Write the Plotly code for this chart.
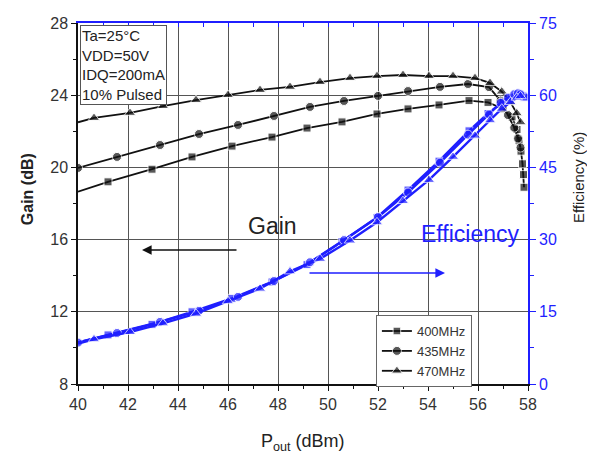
import plotly.graph_objects as go

# ---------------- data ----------------
pout_400 = [40, 41.2, 42.96, 44.56, 46.16, 47.76, 49.16, 50.56, 51.96, 53.2, 54.44, 55.64, 56.4, 57.0, 57.36, 57.56, 57.64, 57.72, 57.78, 57.82, 57.84]
gain_400 = [18.65, 19.2, 19.9, 20.58, 21.18, 21.68, 22.18, 22.52, 22.96, 23.24, 23.46, 23.7, 23.6, 23.25, 22.8, 22.1, 21.5, 20.9, 20.2, 19.6, 18.9]
eff_400 = [8.6, 10.2, 12.4, 15.0, 17.8, 21.2, 24.8, 29.6, 34.6, 40.3, 46.3, 52.6, 56.2, 58.6, 59.6, 60.0, 60.1, 60.0, 59.9, 59.8, 59.6]

pout_435 = [40, 41.56, 43.28, 44.84, 46.4, 47.84, 49.28, 50.64, 52.0, 53.2, 54.48, 55.6, 56.44, 56.9, 57.2, 57.45, 57.6, 57.7]
gain_435 = [19.97, 20.58, 21.24, 21.85, 22.35, 22.85, 23.35, 23.68, 23.96, 24.23, 24.46, 24.62, 24.45, 23.7, 22.9, 22.2, 21.6, 21.1]
eff_435 = [8.6, 10.6, 12.9, 15.2, 18.1, 21.4, 25.3, 29.9, 34.7, 39.8, 46.0, 51.8, 56.0, 58.4, 59.5, 60.2, 60.4, 60.2]

pout_470 = [40, 40.64, 42.08, 43.4, 44.72, 46.0, 47.28, 48.48, 49.68, 50.88, 51.96, 53.0, 54.04, 55.0, 55.88, 56.48, 56.95, 57.3, 57.55, 57.7]
gain_470 = [22.5, 22.74, 23.02, 23.4, 23.73, 24.01, 24.29, 24.46, 24.73, 24.95, 25.06, 25.12, 25.06, 25.06, 24.95, 24.68, 24.2, 23.6, 23.0, 22.5]
eff_470 = [8.4, 9.3, 10.8, 12.6, 14.6, 17.2, 19.8, 23.4, 26.0, 29.8, 33.6, 38.0, 42.4, 47.2, 51.6, 54.8, 57.2, 58.6, 59.5, 59.8]

series_names = ["400MHz", "435MHz", "470MHz"]
x_ticks = [40, 42, 44, 46, 48, 50, 52, 54, 56, 58]
gain_ticks = [8, 12, 16, 20, 24, 28]
eff_ticks = [0, 15, 30, 45, 60, 75]
conditions = ["Ta=25°C", "VDD=50V", "IDQ=200mA", "10% Pulsed"]

FONT = "Arial, Liberation Sans, sans-serif"
BLUE = "#1f1fff"

fig = go.Figure()

sets = [
    (pout_400, gain_400, eff_400, "square", 8, False),
    (pout_435, gain_435, eff_435, "circle", 9, True),
    (pout_470, gain_470, eff_470, "triangle-up", 10, False),
]

for (px, g, e, sym, ms, first), name in zip(sets, series_names):
    sizes = [ms] * len(px)
    if not first:
        sizes[0] = 0
    fig.add_trace(go.Scatter(
        x=px, y=g, name=name, mode="lines+markers",
        line=dict(color="#111111", width=1.8),
        marker=dict(symbol=sym, size=sizes, color="#111111"),
        xaxis="x", yaxis="y",
    ))
    fig.add_trace(go.Scatter(
        x=px, y=e, name=name, mode="lines+markers", showlegend=False,
        line=dict(color=BLUE, width=2.4),
        marker=dict(symbol=sym, size=sizes, color=BLUE),
        xaxis="x2", yaxis="y2",
    ))

fig.update_layout(
    width=587, height=444,
    margin=dict(l=70, r=67, t=15, b=68),
    paper_bgcolor="white", plot_bgcolor="white",
    font=dict(family=FONT, size=14, color="#222222"),
    xaxis=dict(
        range=[40, 58], tickvals=x_ticks, showgrid=True, gridcolor="#555555", gridwidth=1,
        showline=True, linecolor="#111111", linewidth=1.5,
        ticks="outside", ticklen=5, tickcolor="#111111",
        minor=dict(dtick=1, ticks="outside", ticklen=3, tickcolor="#111111"),
        tickfont=dict(size=16, color="#333333"),
        zeroline=False, automargin=False,
    ),
    xaxis2=dict(
        range=[40, 58], overlaying="x", side="top", anchor="y",
        showline=True, linecolor=BLUE, linewidth=1.8,
        ticks="inside", ticklen=4, tickcolor=BLUE, dtick=1, tick0=40,
        showticklabels=False, showgrid=False, zeroline=False, automargin=False,
    ),
    yaxis=dict(
        range=[8, 28], tickvals=gain_ticks, showgrid=True, gridcolor="#555555", gridwidth=1,
        showline=True, linecolor="#111111", linewidth=1.5,
        ticks="outside", ticklen=5, tickcolor="#111111",
        minor=dict(dtick=2, tick0=8, ticks="outside", ticklen=3, tickcolor="#111111"),
        tickfont=dict(size=16, color="#333333"),
        zeroline=False, automargin=False,
    ),
    yaxis2=dict(
        range=[0, 75], tickvals=eff_ticks, overlaying="y", side="right", anchor="x2",
        showline=True, linecolor=BLUE, linewidth=1.8,
        ticks="outside", ticklen=6, tickcolor=BLUE,
        minor=dict(dtick=7.5, tick0=0, ticks="outside", ticklen=4, tickcolor=BLUE),
        tickfont=dict(size=16, color=BLUE),
        showgrid=False, zeroline=False, automargin=False,
    ),
    legend=dict(
        x=0.662, y=0.191, xanchor="left", yanchor="top",
        bgcolor="white", bordercolor="#666666", borderwidth=1,
        font=dict(size=13, color="#333333"), tracegroupgap=0,
        itemwidth=30,
    ),
    showlegend=True,
)

# axis titles
fig.add_annotation(xref="paper", yref="paper", x=-0.113, y=0.54, xanchor="center", yanchor="middle",
                   textangle=-90, text="<b>Gain (dB)</b>", showarrow=False,
                   font=dict(size=16, color="#222222"))
fig.add_annotation(xref="paper", yref="paper", x=1.111, y=0.573, xanchor="center", yanchor="middle",
                   textangle=-90, text="Efficiency (%)", showarrow=False,
                   font=dict(size=15, color="#222222"))
fig.add_annotation(xref="paper", yref="paper", x=0.5, y=-0.124, xanchor="center", yanchor="top",
                   text="P<sub>out</sub> (dBm)", showarrow=False, font=dict(size=18, color="#222222"))

fig.add_annotation(
    xref="paper", yref="paper", x=0.004, y=0.995, xanchor="left", yanchor="top",
    text="<br>".join(conditions), align="left", showarrow=False,
    font=dict(size=15, color="#222222"),
    bordercolor="#555555", borderwidth=1, borderpad=1, bgcolor="white",
)

# Gain arrow & label
fig.add_annotation(x=42.56, y=15.42, ax=46.4, ay=15.42, xref="x", yref="y", axref="x", ayref="y",
                   showarrow=True, arrowhead=2, arrowsize=1.2, arrowwidth=1.6, arrowcolor="#111111", text="")
fig.add_annotation(x=47.76, y=16.75, xref="x", yref="y", text="Gain", showarrow=False,
                   font=dict(size=23, color="#222222"))
# Efficiency arrow & label
fig.add_annotation(x=55.68, y=16.3, xref="x", yref="y", text="Efficiency", showarrow=False,
                   font=dict(size=23, color=BLUE))
fig.add_annotation(x=54.68, y=14.15, ax=49.2, ay=14.15, xref="x", yref="y", axref="x", ayref="y",
                   showarrow=True, arrowhead=2, arrowsize=1.2, arrowwidth=1.6, arrowcolor=BLUE, text="")

fig.write_html("out.html")
